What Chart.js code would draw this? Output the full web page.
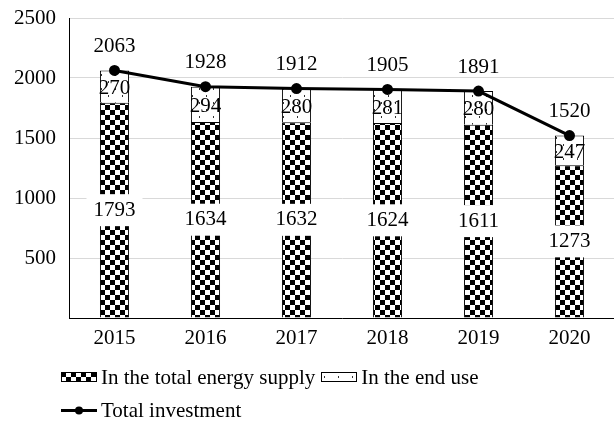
<!DOCTYPE html>
<html>
<head>
<meta charset="utf-8">
<script src="https://cdn.jsdelivr.net/npm/chart.js@4/dist/chart.umd.min.js"></script>
<style>
  body { margin: 0; background: #fff; }
  #wrap { position: relative; width: 614px; height: 422px; overflow: hidden; font-family: "Liberation Serif", "Times New Roman", serif; }
  #chart { position: absolute; left: 0; top: 0; }
  .lg { position: absolute; font-size: 21px; line-height: 24px; color: #000; display: flex; align-items: center; white-space: nowrap; }
  .lg canvas { margin-right: 4px; }
</style>
</head>
<body>
<div id="wrap">
  <canvas id="chart" width="622" height="422"></canvas>
  <div class="lg" style="left:61px; top:365px;">
    <canvas id="sw1" width="36" height="10"></canvas>In the total energy supply
    <canvas id="sw2" width="36" height="10" style="margin-left:6px"></canvas>In the end use
  </div>
  <div class="lg" style="left:61px; top:398px;">
    <canvas id="sw3" width="36" height="10"></canvas>Total investment
  </div>
</div>
<script>
const categories = ["2015", "2016", "2017", "2018", "2019", "2020"];
const supplyValues = [1793, 1634, 1632, 1624, 1611, 1273];
const endUseValues = [270, 294, 280, 281, 280, 247];
const totalValues = [2063, 1928, 1912, 1905, 1891, 1520];
const yTicks = [500, 1000, 1500, 2000, 2500];

const FONT = '"Liberation Serif", "Times New Roman", serif';

// checkerboard fill for the supply part
function checker() {
  const c = document.createElement("canvas");
  c.width = 10; c.height = 10;
  const g = c.getContext("2d");
  g.fillStyle = "#fff"; g.fillRect(0, 0, 10, 10);
  g.fillStyle = "#000";
  g.fillRect(0, 0, 5, 5);
  g.fillRect(5, 5, 5, 5);
  return c;
}
// sparse dots for the end use part
function dots() {
  const c = document.createElement("canvas");
  c.width = 14; c.height = 14;
  const g = c.getContext("2d");
  g.fillStyle = "#fff"; g.fillRect(0, 0, 14, 14);
  g.fillStyle = "#333";
  g.fillRect(3, 4, 1, 2);
  g.fillRect(10, 11, 1, 2);
  return c;
}

const ctx = document.getElementById("chart").getContext("2d");
const checkerPat = ctx.createPattern(checker(), "repeat");
const dotPat = ctx.createPattern(dots(), "repeat");

const labelPlugin = {
  id: "valueLabels",
  afterDatasetsDraw(chart) {
    const c = chart.ctx;
    c.save();
    c.font = "21px " + FONT;
    c.textAlign = "center";
    c.textBaseline = "middle";
    chart.getDatasetMeta(0).data.forEach((bar, i) => {
      const t = String(supplyValues[i]);
      const y = (bar.y + bar.base) / 2;
      const w = c.measureText(t).width;
      c.fillStyle = "#fff";
      c.fillRect(bar.x - w / 2 - 7, y - 16, w + 14, 32);
      c.fillStyle = "#000";
      c.fillText(t, bar.x, y);
    });
    chart.getDatasetMeta(1).data.forEach((bar, i) => {
      const y = (bar.y + bar.base) / 2;
      c.fillStyle = "#000";
      c.fillText(String(endUseValues[i]), bar.x, y + 2);
    });
    chart.getDatasetMeta(2).data.forEach((pt, i) => {
      c.fillStyle = "#000";
      c.fillText(String(totalValues[i]), pt.x, pt.y - 24);
    });
    c.restore();
  }
};

new Chart(ctx, {
  type: "bar",
  data: {
    labels: categories,
    datasets: [
      {
        label: "In the total energy supply",
        data: supplyValues,
        backgroundColor: checkerPat,
        borderColor: "#000",
        borderWidth: 1,
        stack: "bars",
        order: 1,
      },
      {
        label: "In the end use",
        data: endUseValues,
        backgroundColor: dotPat,
        borderColor: "#000",
        borderWidth: 1,
        stack: "bars",
        order: 1,
      },
      {
        type: "line",
        label: "Total investment",
        data: totalValues,
        borderColor: "#000",
        backgroundColor: "#000",
        borderWidth: 3,
        pointRadius: 4,
        pointBackgroundColor: "#000",
        tension: 0,
        stack: "line",
        order: 0,
      },
    ],
  },
  options: {
    responsive: false,
    animation: false,
    devicePixelRatio: 1,
    layout: { padding: { top: 18, right: 0, left: 0, bottom: 64 } },
    datasets: { bar: { barPercentage: 0.32, categoryPercentage: 1 } },
    plugins: { legend: { display: false }, tooltip: { enabled: false } },
    scales: {
      x: {
        stacked: true,
        grid: { display: false, drawTicks: false, tickLength: 0 },
        border: { color: "#000", width: 1 },
        ticks: { color: "#000", font: { family: FONT, size: 21 }, padding: 8 },
        afterFit: (s) => { s.height = 40; },
      },
      y: {
        stacked: true,
        min: 0,
        max: 2500,
        afterBuildTicks: (s) => { s.ticks = [0].concat(yTicks).map((v) => ({ value: v })); },
        grid: { color: "#d9d9d9", drawTicks: false },
        border: { color: "#000", width: 1 },
        ticks: {
          color: "#000",
          font: { family: FONT, size: 21 },
          padding: 13,
          callback: (v) => (v === 0 ? "" : v),
        },
        afterFit: (s) => { s.width = 69; s.paddingTop = 0; s.paddingBottom = 0; },
      },
    },
  },
  plugins: [labelPlugin],
});

// legend swatches
const s1 = document.getElementById("sw1").getContext("2d");
s1.fillStyle = s1.createPattern(checker(), "repeat");
s1.fillRect(0, 0, 36, 10);
s1.strokeStyle = "#000"; s1.lineWidth = 1; s1.strokeRect(0.5, 0.5, 35, 9);
const s2 = document.getElementById("sw2").getContext("2d");
s2.fillStyle = s2.createPattern(dots(), "repeat");
s2.fillRect(0, 0, 36, 10);
s2.strokeStyle = "#000"; s2.lineWidth = 1; s2.strokeRect(0.5, 0.5, 35, 9);
const s3 = document.getElementById("sw3").getContext("2d");
s3.fillStyle = "#000";
s3.fillRect(0, 4, 36, 3);
s3.beginPath(); s3.arc(18, 5.5, 4, 0, Math.PI * 2); s3.fill();
</script>
</body>
</html>
